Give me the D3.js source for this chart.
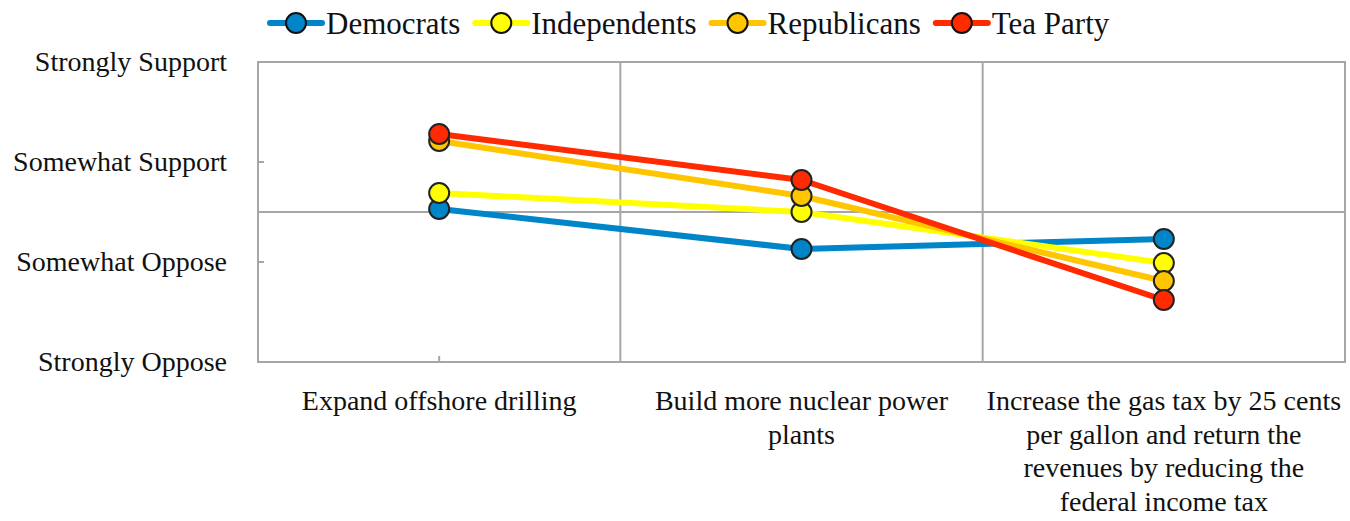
<!DOCTYPE html>
<html>
<head>
<meta charset="utf-8">
<script src="https://cdnjs.cloudflare.com/ajax/libs/d3/7.8.5/d3.min.js"></script>
<style>
  body { margin: 0; background: #fff; }
  text { font-family: "Liberation Serif", "DejaVu Serif", serif; fill: #111; }
</style>
</head>
<body>
<script>
var categories = [
  ["Expand offshore drilling"],
  ["Build more nuclear power", "plants"],
  ["Increase the gas tax by 25 cents", "per gallon and return the", "revenues by reducing the", "federal income tax"]
];
var seriesNames = ["Democrats", "Independents", "Republicans", "Tea Party"];
var democrats    = [2.53, 2.13, 2.23];
var independents = [2.69, 2.50, 1.99];
var republicans  = [3.21, 2.66, 1.81];
var teaParty     = [3.28, 2.82, 1.62];
var yTickValues = [1, 2, 3, 4];
var yTickLabels = ["Strongly Oppose", "Somewhat Oppose", "Somewhat Support", "Strongly Support"];
var colors = ["#0085c9", "#ffff00", "#ffc600", "#ff2a00"];

var series = [democrats, independents, republicans, teaParty];

(function(){
	var W = 1350, H = 521;
	var left = 258, right = 1345, top = 62, bottom = 362;

	var svg = d3.select("body")
			.append("svg")
			.attr("width", W)
			.attr("height", H);

	var x = d3.scaleBand()
			.domain(d3.range(categories.length))
			.range([left, right]);
	var y = d3.scaleLinear()
			.domain([1, 4])
			.range([bottom, top]);

	var grey = "#a6a6a6";

	// plot frame
	svg.append("rect")
			.attr("x", left)
			.attr("y", top)
			.attr("width", right - left)
			.attr("height", bottom - top)
			.attr("fill", "none")
			.attr("stroke", grey)
			.attr("stroke-width", 2);

	// category separators
	svg.selectAll(".vgrid")
			.data(d3.range(1, categories.length))
			.enter().append("line")
			.attr("x1", function(d){ return x(d); })
			.attr("x2", function(d){ return x(d); })
			.attr("y1", top)
			.attr("y2", bottom)
			.attr("stroke", grey)
			.attr("stroke-width", 2);

	// middle line
	svg.append("line")
			.attr("x1", left).attr("x2", right)
			.attr("y1", y(2.5)).attr("y2", y(2.5))
			.attr("stroke", grey)
			.attr("stroke-width", 2);

	// y ticks (inner)
	svg.selectAll(".ytick")
			.data([2, 3])
			.enter().append("line")
			.attr("x1", left).attr("x2", left + 6)
			.attr("y1", function(d){ return y(d); })
			.attr("y2", function(d){ return y(d); })
			.attr("stroke", grey)
			.attr("stroke-width", 2);

	// x tick under first category
	svg.append("line")
			.attr("x1", x(0) + x.bandwidth() / 2).attr("x2", x(0) + x.bandwidth() / 2)
			.attr("y1", bottom).attr("y2", bottom - 6)
			.attr("stroke", grey)
			.attr("stroke-width", 2);

	// y labels
	svg.selectAll(".ylab")
			.data(yTickValues)
			.enter().append("text")
			.attr("x", 227)
			.attr("y", function(d){ return y(d) + 9; })
			.attr("text-anchor", "end")
			.attr("font-size", 28)
			.text(function(d, i){ return yTickLabels[i]; });

	// category labels
	categories.forEach(function(lines, i){
		var t = svg.append("text")
				.attr("text-anchor", "middle")
				.attr("font-size", 28);
		lines.forEach(function(l, j){
			t.append("tspan")
				.attr("x", x(i) + x.bandwidth() / 2)
				.attr("y", 410 + j * 33.5)
				.text(l);
		});
	});

	var line = d3.line()
			.x(function(d, i){ return x(i) + x.bandwidth() / 2; })
			.y(function(d){ return y(d); });

	series.forEach(function(s, k){
		svg.append("path")
				.attr("d", line(s))
				.attr("fill", "none")
				.attr("stroke", colors[k])
				.attr("stroke-width", 6)
				.attr("stroke-linejoin", "round");
	});
	series.forEach(function(s, k){
		svg.selectAll(".pt" + k)
				.data(s)
				.enter().append("circle")
				.attr("cx", function(d, i){ return x(i) + x.bandwidth() / 2; })
				.attr("cy", function(d){ return y(d); })
				.attr("r", 10)
				.attr("fill", colors[k])
				.attr("stroke", "#222")
				.attr("stroke-width", 2);
	});

	// legend
	var lg = svg.append("g");
	var cx = 270;
	seriesNames.forEach(function(name, k){
		var g = lg.append("g");
		g.append("line")
				.attr("x1", cx).attr("x2", cx + 52)
				.attr("y1", 23).attr("y2", 23)
				.attr("stroke", colors[k])
				.attr("stroke-width", 6)
				.attr("stroke-linecap", "round");
		g.append("circle")
				.attr("cx", cx + 26).attr("cy", 23)
				.attr("r", 10)
				.attr("fill", colors[k])
				.attr("stroke", "#111")
				.attr("stroke-width", 2);
		var t = g.append("text")
				.attr("x", cx + 56)
				.attr("y", 34)
				.attr("font-size", 31)
				.text(name);
		cx = cx + 56 + t.node().getComputedTextLength() + 15;
	});
})();
</script>
</body>
</html>
